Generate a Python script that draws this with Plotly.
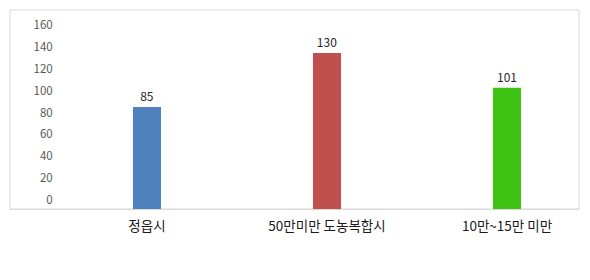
import plotly.graph_objects as go

categories = ["정읍시", "50만미만 도농복합시", "10만~15만 미만"]
values = [85, 130, 101]
bar_colors = ["#4f81bd", "#c0504d", "#3ec315"]
tick_values = [0, 20, 40, 60, 80, 100, 120, 140, 160]
tick_labels = [str(v) for v in tick_values]

W, H = 590, 280
L, R, T, B = 10, 11, 10, 71

fig = go.Figure()
fig.add_trace(go.Bar(
    x=list(range(len(categories))),
    y=values,
    width=0.156,
    marker=dict(color=bar_colors, line=dict(width=0)),
    text=[str(v) for v in values],
    textposition="outside",
    textfont=dict(family="Noto Sans CJK KR", size=12, color="#262626"),
    cliponaxis=False,
    hoverinfo="skip",
))
# value scale for the labels drawn at the left
fig.add_trace(go.Scatter(x=[0], y=[0], yaxis="y2", mode="markers",
                         marker=dict(opacity=0), hoverinfo="skip", showlegend=False))

fig.update_layout(
    width=W, height=H,
    margin=dict(l=L, r=R, t=T, b=B, pad=0),
    paper_bgcolor="white", plot_bgcolor="white",
    showlegend=False,
    xaxis=dict(
        range=[-0.761, 2.4],
        tickvals=list(range(len(categories))),
        ticktext=categories,
        tickfont=dict(family="Noto Sans CJK KR", size=13.5, color="#1a1a1a"),
        ticklabelstandoff=5,
        showgrid=False, zeroline=False,
        showline=True, linecolor="#d9d9d9", linewidth=1,
        ticks="", ticklen=0,
    ),
    yaxis=dict(
        range=[0, 165.8],
        showgrid=False, zeroline=False, showticklabels=False,
        showline=False, ticks="",
    ),
    yaxis2=dict(
        overlaying="y", anchor="free", side="left",
        position=0.075,
        range=[-8.23, 173.7],
        tickvals=tick_values, ticktext=tick_labels,
        tickfont=dict(family="Noto Sans CJK KR", size=11.5, color="#595959"),
        showgrid=False, zeroline=False, showline=False, ticks="",
    ),
    shapes=[dict(type="rect", xref="paper", yref="paper", x0=0, x1=1, y0=0, y1=1,
                 line=dict(color="#d9d9d9", width=1), fillcolor="rgba(0,0,0,0)", layer="below")],
)

fig.write_html("out.html")
